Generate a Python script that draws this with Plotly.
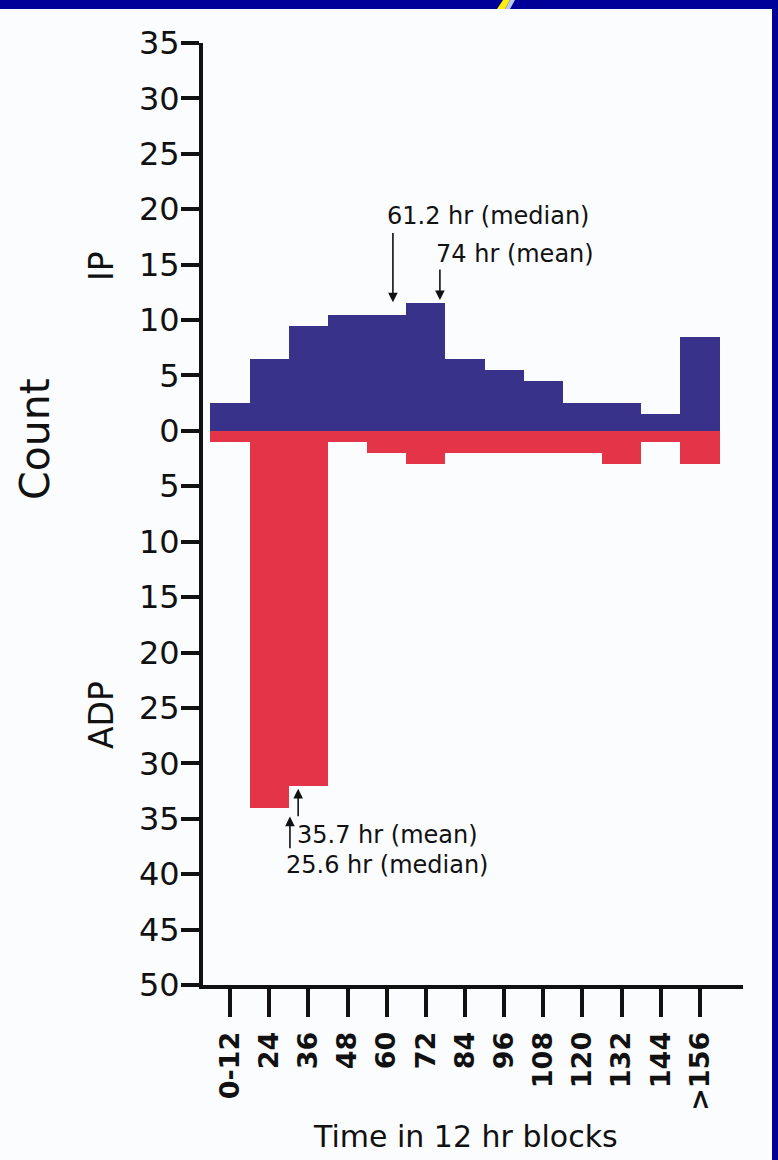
import plotly.graph_objects as go

# ---- data ----
blocks = ["0-12", "24", "36", "48", "60", "72", "84", "96", "108", "120", "132", "144", ">156"]
ip_counts = [2.5, 6.5, 9.5, 10.5, 10.5, 11.5, 6.5, 5.5, 4.5, 2.5, 2.5, 1.5, 8.5]
adp_counts = [1, 34, 32, 1, 2, 3, 2, 2, 2, 2, 3, 1, 3]
y_tick_vals = list(range(-50, 36, 5))
y_tick_text = [str(abs(v)) for v in y_tick_vals]

BLUE = "#38328B"
RED = "#E43447"
FONT = "DejaVu Sans"

W, H = 778, 1160
L, R, T, B = 203, 35, 43, 175
PW, PH = W - L - R, H - T - B


def px(xp):
    return (xp - L) / PW


def py(yp):
    return (H - B - yp) / PH


xs = list(range(len(blocks)))

fig = go.Figure()
fig.add_trace(go.Bar(x=xs, y=ip_counts, width=1, marker=dict(color=BLUE, line=dict(width=0)),
                     name="IP", showlegend=False))
fig.add_trace(go.Bar(x=xs, y=[-v for v in adp_counts], width=1,
                     marker=dict(color=RED, line=dict(width=0)), name="ADP", showlegend=False))

annotations = []
# text labels
for txt, x, y in [("61.2 hr (median)", 3.95, 19.4), ("74 hr (mean)", 5.2, 16.0),
                  ("35.7 hr (mean)", 1.65, -36.5), ("25.6 hr (median)", 1.37, -39.2)]:
    annotations.append(dict(x=x, y=y, xref="x", yref="y", text=txt, showarrow=False,
                            xanchor="left", yanchor="middle",
                            font=dict(family=FONT, size=24, color="#111111")))
# arrows
for x, y_head, y_tail in [(4.16, 11.6, 18.0), (5.36, 11.8, 14.7),
                          (1.74, -32.3, -34.9), (1.53, -34.8, -37.8)]:
    annotations.append(dict(x=x, y=y_head, ax=x, ay=y_tail, xref="x", yref="y",
                            axref="x", ayref="y", text="", showarrow=True,
                            arrowhead=2, arrowsize=1.2, arrowwidth=1.6, arrowcolor="#111111",
                            standoff=0, startstandoff=0))
# axis labels
for txt, xp, yp, size, angle in [("Count", 35, 439, 41, -90), ("IP", 102, 266, 33, -90),
                                 ("ADP", 101, 715, 33, -90),
                                 ("Time in 12 hr blocks", 465, 1136, 30, 0)]:
    annotations.append(dict(x=px(xp), y=py(yp), xref="paper", yref="paper", text=txt,
                            textangle=angle, showarrow=False, xanchor="center", yanchor="middle",
                            font=dict(family=FONT, size=size, color="#111111")))

shapes = [
    # slide border bands
    dict(type="rect", xref="paper", yref="paper", x0=px(0), x1=px(W), y0=py(9), y1=py(0),
         fillcolor="#000099", line=dict(width=0), layer="above"),
    dict(type="rect", xref="paper", yref="paper", x0=px(772), x1=px(W), y0=py(H), y1=py(0),
         fillcolor="#000099", line=dict(width=0), layer="above"),
    dict(type="path", xref="paper", yref="paper",
         path=f"M {px(497)},{py(9)} L {px(503)},{py(0)} L {px(510)},{py(0)} L {px(505)},{py(9)} Z",
         fillcolor="#FFEE00", line=dict(width=0), layer="above"),
    dict(type="path", xref="paper", yref="paper",
         path=f"M {px(505)},{py(9)} L {px(510)},{py(0)} L {px(515)},{py(0)} L {px(510)},{py(9)} Z",
         fillcolor="#B8C8F0", line=dict(width=0), layer="above"),
]

fig.update_layout(
    width=W, height=H,
    margin=dict(l=L, r=R, t=T, b=B, pad=0),
    paper_bgcolor="#FBFCFE", plot_bgcolor="#FBFCFE",
    barmode="overlay", bargap=0,
    annotations=annotations, shapes=shapes,
    font=dict(family=FONT, color="#111111"),
)
fig.update_xaxes(range=[-0.69, 13.1], tickmode="array", tickvals=xs, ticktext=blocks,
                 tickangle=-90, ticks="outside", ticklen=28, tickwidth=4, tickcolor="#111111",
                 ticklabelstandoff=4,
                 showline=True, linewidth=4, linecolor="#111111", showgrid=False, zeroline=False,
                 tickfont=dict(family=FONT, size=27, color="#111111", weight="bold"))
fig.update_yaxes(range=[-50, 35], tickmode="array", tickvals=y_tick_vals, ticktext=y_tick_text,
                 ticks="outside", ticklen=18, tickwidth=4, tickcolor="#111111",
                 ticklabelstandoff=-5,
                 showline=True, linewidth=4, linecolor="#111111", showgrid=False, zeroline=False,
                 tickfont=dict(family=FONT, size=32, color="#111111"))

fig.write_html("out.html", config={"displayModeBar": False},
               post_script="document.body.style.margin='0';document.body.style.overflow='hidden';")
